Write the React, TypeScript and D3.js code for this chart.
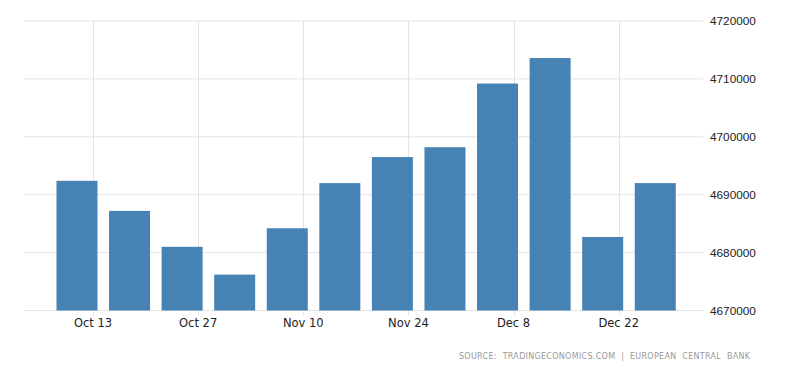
import React from "react";
import * as d3 from "d3";

const dates = ["2019-10-11","2019-10-18","2019-10-25","2019-11-01","2019-11-08","2019-11-15","2019-11-22","2019-11-29","2019-12-06","2019-12-13","2019-12-20","2019-12-27"];
const values = [4692400,4687200,4681000,4676200,4684200,4692000,4696500,4698200,4709200,4713600,4682700,4692000];
const yTicks = [4670000,4680000,4690000,4700000,4710000,4720000];
const xTickDates = ["2019-10-13","2019-10-27","2019-11-10","2019-11-24","2019-12-08","2019-12-22"];
const sourceText = "SOURCE: TRADINGECONOMICS.COM | EUROPEAN CENTRAL BANK";

const W = 800, H = 373;
const parse = d3.utcParse("%Y-%m-%d");

export default function App() {
  const x = d3.scaleUtc()
    .domain([parse("2019-10-13")!, parse("2019-12-22")!])
    .range([93, 618.7]);
  const y = d3.scaleLinear().domain([4670000, 4720000]).range([310.5, 21]);
  const fmtX = d3.utcFormat("%b %-d");
  const left = 24, right = 703;
  const barW = 41;
  return (
    <svg width={W} height={H} style={{ position: "absolute", left: 0, top: 0, background: "#fff" }}>
      <g>
        {yTicks.map((t) => (
          <line key={t} x1={left} x2={right} y1={y(t)} y2={y(t)} stroke="#e4e4e4" strokeWidth={1} />
        ))}
        {xTickDates.map((d) => {
          const xx = Math.round(x(parse(d)!)) + 0.5;
          return <line key={d} x1={xx} x2={xx} y1={y(4720000)} y2={y(4670000) + 5} stroke="#e4e4e4" strokeWidth={1} />;
        })}
      </g>
      <g>
        {values.map((v, i) => {
          const cx = x(parse(dates[i])!) - 1;
          return (
            <rect key={i} x={cx - barW / 2} y={y(v)} width={barW} height={y(4670000) - y(v)} fill="#4682b4" />
          );
        })}
      </g>
      <g fontFamily="'DejaVu Sans', sans-serif" fontSize={11.5} fill="#222">
        {xTickDates.map((d) => (
          <text key={d} x={x(parse(d)!)} y={327} textAnchor="middle">{fmtX(parse(d)!)}</text>
        ))}
      </g>
      <g fontFamily="'Liberation Sans', Arial, sans-serif" fontSize={11.8} fill="#222">
        {yTicks.map((t) => (
          <text key={t} x={710} y={y(t) + 4} textAnchor="start">{d3.format("d")(t)}</text>
        ))}
      </g>
      <text x={459} y={359} textLength={291} lengthAdjust="spacing" fontFamily="'DejaVu Sans', sans-serif" fontSize={8} fill="#999" wordSpacing={3}>{sourceText}</text>
    </svg>
  );
}
